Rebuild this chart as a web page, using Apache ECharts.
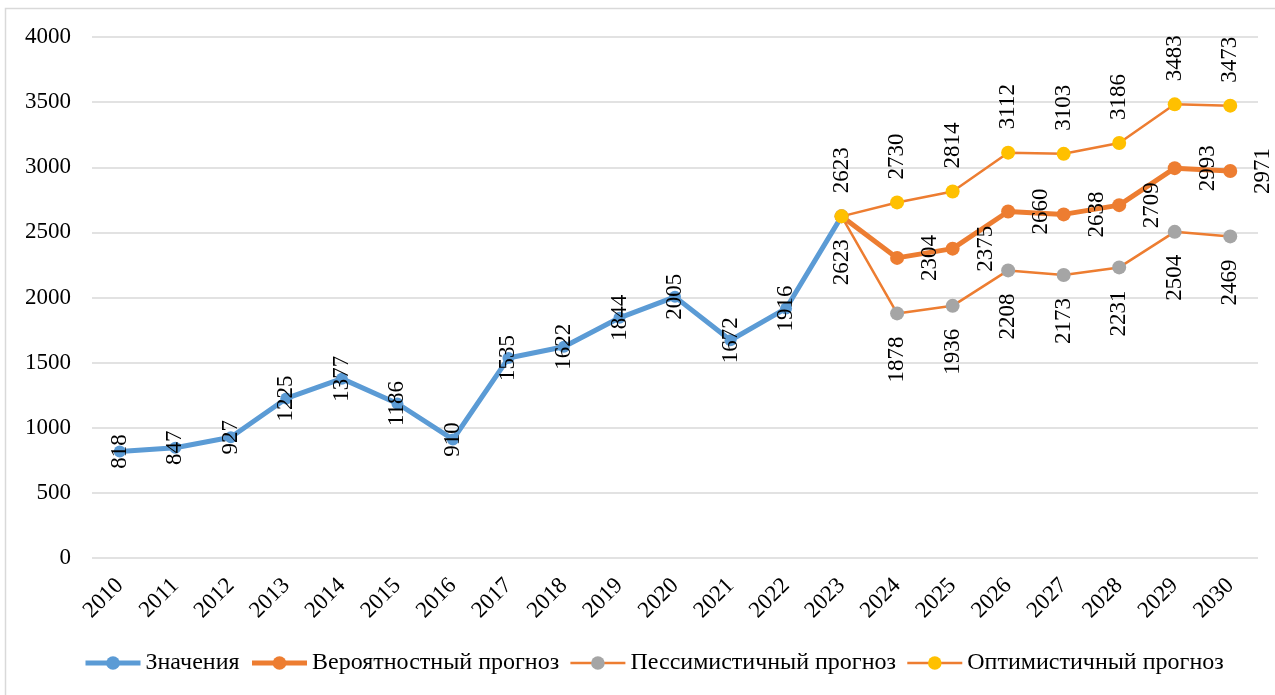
<!DOCTYPE html>
<html>
<head>
<meta charset="utf-8">
<script src="https://cdn.jsdelivr.net/npm/echarts@6/dist/echarts.min.js"></script>
<style>html,body{margin:0;padding:0;background:#fff;}#c{width:1275px;height:695px;}</style>
</head>
<body>
<div id="c"></div>
<script>
var years = ['2010','2011','2012','2013','2014','2015','2016','2017','2018','2019','2020','2021','2022','2023','2024','2025','2026','2027','2028','2029','2030'];
var actual = [818, 847, 927, 1225, 1377, 1186, 910, 1535, 1622, 1844, 2005, 1672, 1916, 2623];
var forecastYears = ['2023','2024','2025','2026','2027','2028','2029','2030'];
var probable = [2623, 2304, 2375, 2660, 2638, 2709, 2993, 2971];
var pessimistic = [2623, 1878, 1936, 2208, 2173, 2231, 2504, 2469];
var optimistic = [2623, 2730, 2814, 3112, 3103, 3186, 3483, 3473];
var yTicks = {min: 0, max: 4000, interval: 500};

var FONT = '"Liberation Serif", "Times New Roman", serif';
var ORANGE = '#ed7d31';

function full(arr, startYear, hideFirstLabel) {
  var out = years.map(function(){ return null; });
  var s = years.indexOf(startYear);
  arr.forEach(function(v, i){
    if (i === 0 && hideFirstLabel) out[s + i] = {value: v, label: {show: false}};
    else out[s + i] = v;
  });
  return out;
}
var actualData = actual.map(function(v, i){
  return i === actual.length - 1 ? {value: v, label: {show: false}} : v;
});
while (actualData.length < years.length) actualData.push(null);

var baseLabel = {show: true, rotate: 90, fontFamily: FONT, fontSize: 23, color: '#000'};

var chart = echarts.init(document.getElementById('c'), null, {renderer: 'canvas'});
chart.setOption({
  backgroundColor: '#fff',
  animation: false,
  graphic: [{type: 'rect', shape: {x: 5.5, y: 8.5, width: 1300, height: 720}, style: {fill: 'none', stroke: '#d9d9d9', lineWidth: 1.5}, silent: true, z: -10}],
  grid: {left: 92, right: 17, top: 37, bottom: 137, containLabel: false},
  legend: {
    bottom: 15, left: 78,
    itemWidth: 55, itemHeight: 17, itemGap: 10,
    textStyle: {fontFamily: FONT, fontSize: 24, color: '#000'},
    data: [
      {name: 'Значения', lineStyle: {width: 5, color: '#5b9bd5'}},
      {name: 'Вероятностный прогноз', lineStyle: {width: 5, color: ORANGE}},
      {name: 'Пессимистичный прогноз', lineStyle: {width: 2.5, color: ORANGE}},
      {name: 'Оптимистичный прогноз', lineStyle: {width: 2.5, color: ORANGE}}
    ]
  },
  xAxis: {
    type: 'category', data: years, boundaryGap: true,
    axisLine: {show: false}, axisTick: {show: false},
    axisLabel: {rotate: 45, margin: 24, fontFamily: FONT, fontSize: 23, color: '#000', interval: 0}
  },
  yAxis: {
    type: 'value', min: yTicks.min, max: yTicks.max, interval: yTicks.interval,
    axisLine: {show: false}, axisTick: {show: false},
    axisLabel: {margin: 21, fontFamily: FONT, fontSize: 23, color: '#000', formatter: function(v){ return String(v); }},
    splitLine: {lineStyle: {color: '#d9d9d9', width: 1.5}}
  },
  series: [
    {
      name: 'Значения', type: 'line', data: actualData,
      symbol: 'circle', symbolSize: 12,
      lineStyle: {color: '#5b9bd5', width: 5},
      itemStyle: {color: '#5b9bd5'},
      label: Object.assign({}, baseLabel, {position: 'inside'}),
      z: 2
    },
    {
      name: 'Вероятностный прогноз', type: 'line', data: full(probable, '2023', true),
      symbol: 'circle', symbolSize: 14,
      lineStyle: {color: ORANGE, width: 5},
      itemStyle: {color: ORANGE},
      label: Object.assign({}, baseLabel, {position: 'inside', offset: [0, 33]}),
      z: 3
    },
    {
      name: 'Пессимистичный прогноз', type: 'line', data: full(pessimistic, '2023', false),
      symbol: 'circle', symbolSize: 14,
      lineStyle: {color: ORANGE, width: 2.5},
      itemStyle: {color: '#a5a5a5'},
      label: Object.assign({}, baseLabel, {position: 'inside', offset: [-46, 0]}),
      z: 4
    },
    {
      name: 'Оптимистичный прогноз', type: 'line', data: full(optimistic, '2023', false),
      symbol: 'circle', symbolSize: 14,
      lineStyle: {color: ORANGE, width: 2.5},
      itemStyle: {color: '#ffc000'},
      label: Object.assign({}, baseLabel, {position: 'inside', offset: [46, 0]}),
      z: 5
    }
  ]
});
</script>
</body>
</html>
